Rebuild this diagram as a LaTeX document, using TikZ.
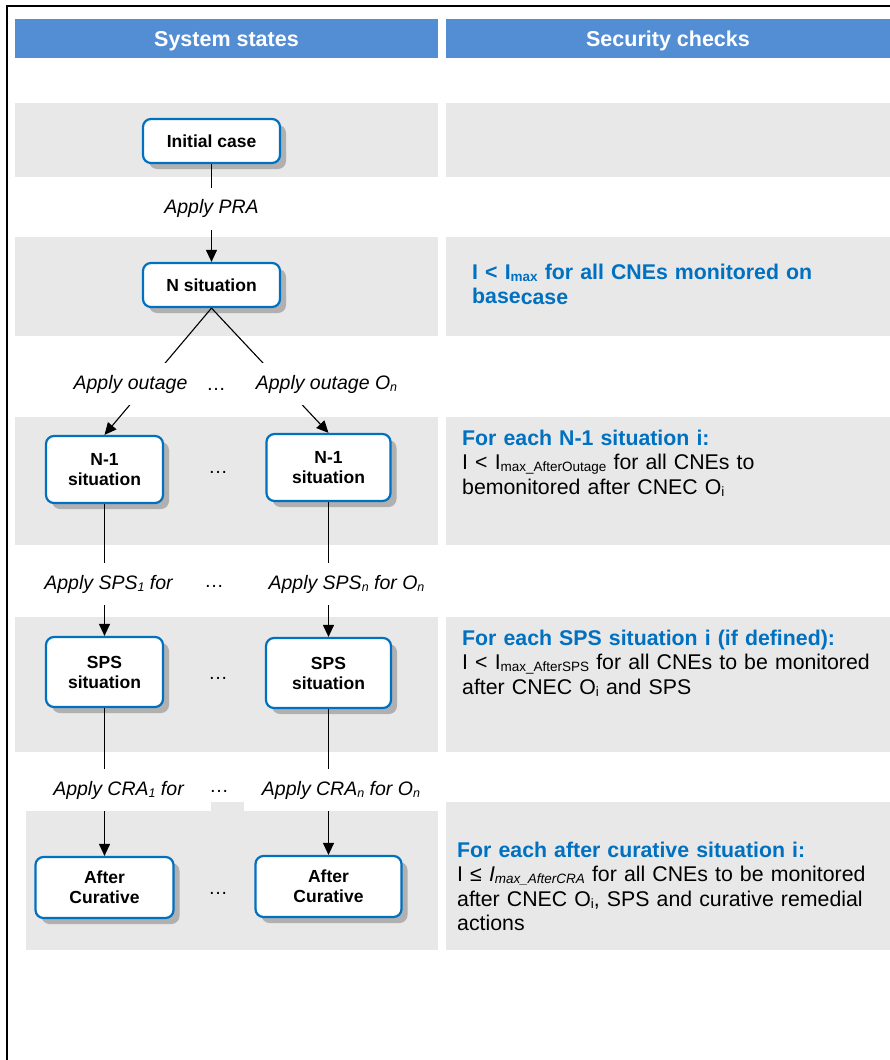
\documentclass[tikz,border=0pt]{standalone}
\usepackage{fontspec}
\setmainfont{Liberation Sans}
\usetikzlibrary{arrows.meta,shadows}

\definecolor{headblue}{RGB}{83,142,213}
\definecolor{boxblue}{RGB}{0,112,192}
\definecolor{bandgrey}{RGB}{232,232,232}
\definecolor{shadowgrey}{RGB}{176,176,176}

\newcommand\subtx[1]{\raisebox{-2pt}{\fontsize{13.5}{13.5}\selectfont #1}}
\newcommand\sublb[1]{\raisebox{-2pt}{\fontsize{12.5}{12.5}\selectfont #1}}

\tikzset{
    headbar/.style={fill=headblue, text=white, inner sep=0pt, minimum height=39pt,
        text depth=0pt, font=\fontsize{21.5}{24}\selectfont\bfseries},
    statebox/.style={draw=boxblue, line width=2.2pt, fill=white, rounded corners=8pt,
        align=center, inner sep=0pt, font=\fontsize{17.5}{20}\selectfont\bfseries,
        drop shadow={shadow xshift=6pt, shadow yshift=-6pt, fill=shadowgrey, opacity=1}},
    conn/.style={line width=1.1pt, -{Triangle[length=12pt, width=11pt]}},
    actlabel/.style={fill=white, inner xsep=3pt, inner ysep=0pt, minimum height=42pt,
        font=\fontsize{19.5}{22}\selectfont\itshape},
    ellip/.style={inner sep=0pt, font=\fontsize{19.5}{22}\selectfont},
    check/.style={anchor=base west, inner sep=0pt, text width=440pt, align=left,
        font=\fontsize{21.3}{24.5}\selectfont}
}

\begin{document}
\begin{tikzpicture}[x=1pt, y=-1pt]
    % variables
    \def\colA{104.5}
    \def\colB{328.5}
    \def\colM{211.5}

    \useasboundingbox (0,0) rectangle (890,1060);

    % Frame
    \draw[line width=1.5pt] (7,1060) -- (7,6) -- (890,6);

    % Headers
    \node[headbar, minimum width=423pt] (hstate) at (226.5,38.5) {System states};
    \node[headbar, minimum width=444pt] (hcheck) at (668,38.5) {Security checks};

    % Grey bands
    \foreach \ya/\yb in {103/177, 237/336, 417/545, 617/752} {
        \fill[bandgrey] (15,\ya) rectangle (438,\yb);
        \fill[bandgrey] (446,\ya) rectangle (890,\yb);
    }
    \fill[bandgrey] (26,802) rectangle (438,950);
    \fill[bandgrey] (446,802) rectangle (890,950);

    % System states
    \node[statebox, minimum width=137pt, minimum height=44pt] (init) at (\colM,141) {Initial case};
    \node[statebox, minimum width=137pt, minimum height=44pt] (nsit) at (\colM,285) {N situation};
    \node[statebox, minimum width=117pt, minimum height=67pt] (outA) at (\colA,469.5) {N-1\\situation};
    \node[statebox, minimum width=124pt, minimum height=67pt] (outB) at (\colB,467.5) {N-1\\situation};
    \node[statebox, minimum width=117pt, minimum height=70pt] (spsA) at (\colA,672) {SPS\\situation};
    \node[statebox, minimum width=125pt, minimum height=70pt] (spsB) at (\colB,673) {SPS\\situation};
    \node[statebox, minimum width=138pt, minimum height=61pt] (craA) at (\colA,887.5) {After\\Curative};
    \node[statebox, minimum width=146pt, minimum height=61pt] (craB) at (\colB,886.5) {After\\Curative};

    % Transitions
    \draw[conn] (init) -- (nsit);
    \draw[conn] (nsit.south) -- (outA.north);
    \draw[conn] (nsit.south) -- (outB.north);
    \draw[conn] (outA) -- (spsA);
    \draw[conn] (outB) -- (spsB);
    \draw[conn] (spsA) -- (craA);
    \draw[conn] (spsB) -- (craB);

    % Actions
    \node[actlabel] (pra) at (\colM,208.5) {Apply PRA};
    \node[actlabel] (outgA) at (130.5,384) {Apply outage};
    \node[actlabel] (outgB) at (326.5,384) {Apply outage O\sublb{n}};
    \node[actlabel] (spsactA) at (108.5,584) {Apply SPS\sublb{1} for};
    \node[actlabel] (spsactB) at (346.5,584) {Apply SPS\sublb{n} for O\sublb{n}};
    \node[actlabel, minimum width=185pt] (craactA) at (118.5,790) {Apply CRA\sublb{1} for};
    \node[actlabel, minimum width=194pt] (craactB) at (341,790) {Apply CRA\sublb{n} for O\sublb{n}};

    % Dots
    \node[ellip] (dotO) at (216,389) {…};
    \node[ellip] (dotOut) at (218,472) {…};
    \node[ellip] (dotS) at (214,586) {…};
    \node[ellip] (dotSps) at (218,678) {…};
    \node[ellip] (dotC) at (219,791) {…};
    \node[ellip] (dotCra) at (218,893) {…};

    % Security checks
    \node[check, font=\fontsize{21.3}{24}\selectfont\bfseries, text=boxblue] (chkN) at (472,279)
        {I < I\subtx{max} for all CNEs monitored on\\base\raisebox{-1.5pt}{case}};
    \node[check] (chkOut) at (462,445)
        {\textcolor{boxblue}{\bfseries For each N-1 situation i:}\\
        I < I\subtx{max\_AfterOutage} for all CNEs to\\
        bemonitored after CNEC O\subtx{i}};
    \node[check] (chkSps) at (462,645)
        {\textcolor{boxblue}{\bfseries For each SPS situation i (if defined):}\\
        I < I\subtx{max\_AfterSPS} for all CNEs to be monitored\\
        after CNEC O\subtx{i} and SPS};
    \node[check] (chkCra) at (457,857)
        {\textcolor{boxblue}{\bfseries For each after curative situation i:}\\
        I ≤ \textit{I\subtx{max\_AfterCRA}} for all CNEs to be monitored\\
        after CNEC O\subtx{i}, SPS and curative remedial\\
        actions};
\end{tikzpicture}
\end{document}
